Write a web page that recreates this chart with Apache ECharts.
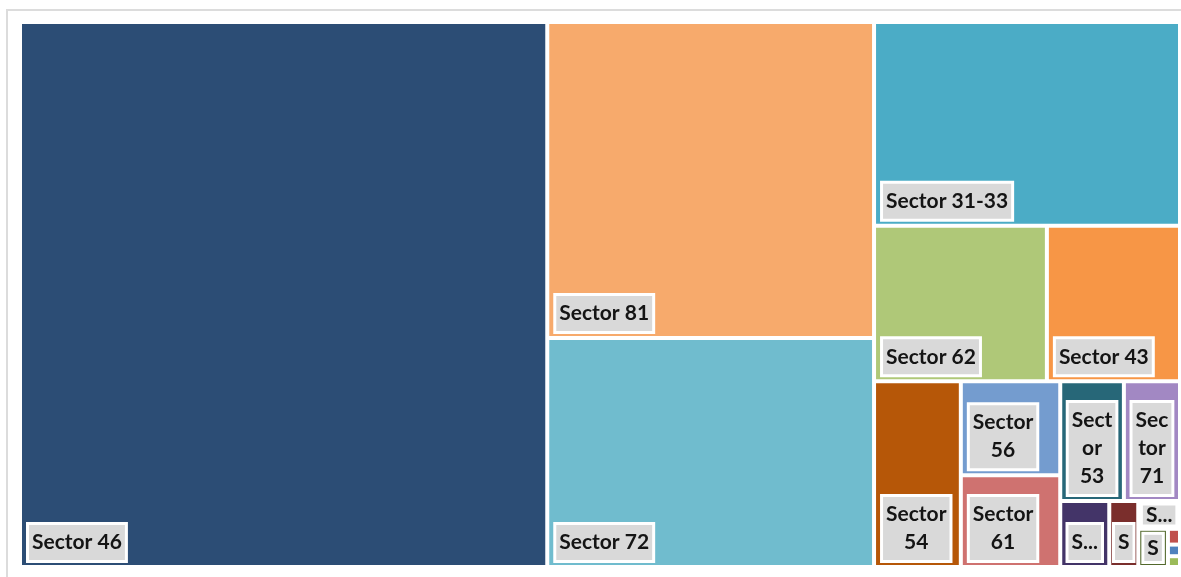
<!DOCTYPE html>
<html>
<head>
<meta charset="utf-8">
<title>Treemap</title>
<script src="https://cdn.jsdelivr.net/npm/echarts@6/dist/echarts.min.js"></script>
<style>
html, body { margin: 0; padding: 0; background: #fff; }
#chartTreemap { width: 1181px; height: 577px; }
</style>
</head>
<body>
<div id="chartTreemap"></div>
<script>
const sectors = ['Sector 46', 'Sector 81', 'Sector 72', 'Sector 31-33', 'Sector 62', 'Sector 43',
  'Sector 54', 'Sector 56', 'Sector 61', 'Sector 53', 'Sector 71', 'Sector 52', 'Sector 51',
  'Sector 48-49', 'Sector 23', 'Sector 22', 'Sector 21', 'Sector 11']
const values = [286.67, 103.02, 74.65, 62.22, 26.80, 20.64, 16.08, 9.31, 9.11, 7.60, 6.70,
  3.23, 1.91, 1.16, 1.13, 0.19, 0.14, 0.13]
const colors = ['#2c4d75', '#f7aa6c', '#70bcce', '#4bacc6', '#afc878', '#f79646',
  '#b65708', '#749ccf', '#cf7270', '#276778', '#a288c3', '#433468', '#7a2e2c',
  '#8064a2', '#52682b', '#c0504d', '#4f81bd', '#9bbb59']
// Excel lays these two out side by side, so they share one unlabeled block
const pairedSectors = ['Sector 53', 'Sector 71']

const treeData = []
let pairBlock = null
sectors.forEach((name, i) => {
  const item = { name: name, value: values[i], itemStyle: { color: colors[i] } }
  if (pairedSectors.indexOf(name) > -1) {
    if (!pairBlock) {
      pairBlock = { name: '', children: [] }
      treeData.push(pairBlock)
    }
    pairBlock.children.push(item)
  } else {
    treeData.push(item)
  }
})

const labelFont = 'bold 21px Lato'
const lineH = 28
const padX = 3
const padY = 3.5
const measureCtx = document.createElement('canvas').getContext('2d')
measureCtx.font = labelFont
const textWidth = s => measureCtx.measureText(s).width

// wrap like Excel: by words, long words get broken by letters
function wrapName (name, maxW) {
  const lines = []
  let cur = ''
  name.split(' ').forEach(word => {
    const joined = cur ? cur + ' ' + word : word
    if (textWidth(joined) <= maxW) {
      cur = joined
      return
    }
    if (cur) lines.push(cur)
    cur = ''
    for (const ch of word) {
      if (cur && textWidth(cur + ch) > maxW) {
        lines.push(cur)
        cur = ch
      } else {
        cur += ch
      }
    }
  })
  if (cur) lines.push(cur)
  return lines
}

function cellLabel (name, x, y, w, h) {
  if (w < 15 || h < 15) return null
  const maxW = w - 18
  let lines = wrapName(name, maxW)
  if (lines.length * lineH + 2 * padY > h - 8) {
    const dotted = name[0] + '...'
    lines = [textWidth(dotted) <= maxW + 8 ? dotted : name[0]]
  }
  let lh = lineH
  let boxH = lines.length * lh + 2 * padY
  if (boxH > h - 8) {
    lh = Math.max(12, (h - 8 - 2 * padY) / lines.length)
    boxH = lines.length * lh + 2 * padY
  }
  const boxW = Math.max.apply(null, lines.map(textWidth)) + 2 * padX
  const insetX = Math.min(7, Math.max(2, (w - boxW) / 2))
  const insetB = Math.min(5, Math.max(2, (h - boxH) / 2))
  return {
    type: 'text',
    z: 100,
    silent: true,
    x: x + insetX + boxW / 2,
    y: y + h - insetB,
    style: {
      text: lines.join('\n'),
      font: labelFont,
      fill: '#141414',
      align: 'center',
      verticalAlign: 'bottom',
      lineHeight: lh,
      padding: [padY, padX, padY, padX],
      backgroundColor: '#d9d9d9',
      borderColor: '#fff',
      borderWidth: 3
    }
  }
}

const canvasChart = echarts.init(document.getElementById('chartTreemap'))
const option = {
  backgroundColor: '#fff',
  series: [{
    type: 'treemap',
    left: 22,
    top: 24,
    width: 1156,
    height: 541,
    roam: false,
    nodeClick: false,
    sort: false,
    squareRatio: 0.79,
    breadcrumb: { show: false },
    label: { show: false },
    upperLabel: { show: false },
    itemStyle: { borderWidth: 0, gapWidth: 4, borderColor: '#fff' },
    data: treeData
  }]
}
canvasChart.setOption(option)

// labels sit in the bottom-left corner of every tile, placed from the treemap's own layout
const seriesModel = canvasChart.getModel().getSeriesByIndex(0)
const info = seriesModel.layoutInfo || { x: 22, y: 24 }
const labels = []
function walk (node, ox, oy) {
  const l = node.getLayout()
  if (!l) return
  const x = ox + (l.x || 0)
  const y = oy + (l.y || 0)
  if (node.children && node.children.length) {
    node.children.forEach(c => walk(c, x, y))
  } else {
    const el = cellLabel(node.name, x, y, l.width, l.height)
    if (el) labels.push(el)
  }
}
walk(seriesModel.getData().tree.root, info.x, info.y)

canvasChart.setOption({
  graphic: {
    elements: [{
      type: 'rect',
      z: -10,
      silent: true,
      shape: { x: 7, y: 10, width: 1200, height: 600 },
      style: { fill: 'none', stroke: '#dcdcdc', lineWidth: 2 }
    }].concat(labels)
  }
})
</script>
</body>
</html>
